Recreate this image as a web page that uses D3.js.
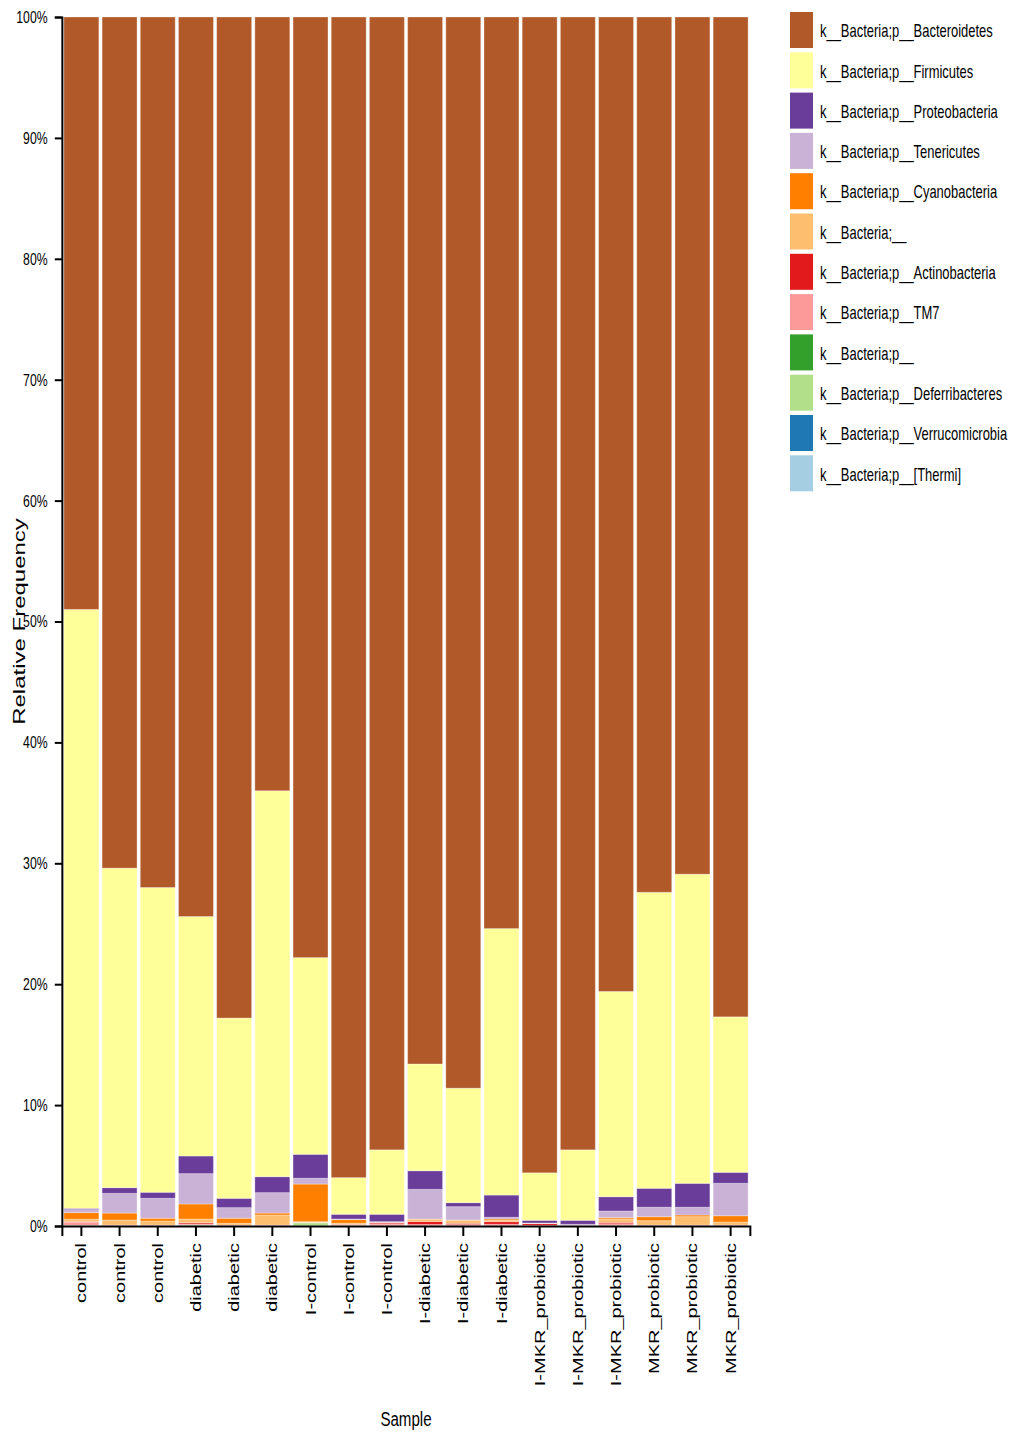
<!DOCTYPE html>
<html>
<head>
<meta charset="utf-8">
<script src="https://cdn.jsdelivr.net/npm/d3@7"></script>
<style>
  body { margin: 0; background: #fff; }
  svg text { font-family: "Liberation Sans", Arial, Helvetica, sans-serif; fill: #000; }
</style>
</head>
<body>
<svg id="chart"></svg>
<script>
var samples = ["control", "control", "control", "diabetic", "diabetic", "diabetic",
  "I-control", "I-control", "I-control", "I-diabetic", "I-diabetic", "I-diabetic",
  "I-MKR_probiotic", "I-MKR_probiotic", "I-MKR_probiotic", "MKR_probiotic", "MKR_probiotic", "MKR_probiotic"];

var taxa = ["k__Bacteria;p__Bacteroidetes", "k__Bacteria;p__Firmicutes", "k__Bacteria;p__Proteobacteria",
  "k__Bacteria;p__Tenericutes", "k__Bacteria;p__Cyanobacteria", "k__Bacteria;__",
  "k__Bacteria;p__Actinobacteria", "k__Bacteria;p__TM7", "k__Bacteria;p__",
  "k__Bacteria;p__Deferribacteres", "k__Bacteria;p__Verrucomicrobia", "k__Bacteria;p__[Thermi]"];

var colors = ["#b15928", "#ffff99", "#6a3d9a", "#cab2d6", "#ff7f00", "#fdbf6f",
  "#e31a1c", "#fb9a99", "#33a02c", "#b2df8a", "#1f78b4", "#a6cee3"];

// relative frequency in %, one value per sample
var bacteroidetes   = [49.0, 70.4, 72.0, 74.4, 82.8, 64.0, 77.8, 96.0, 93.7, 86.6, 88.6, 75.4, 95.6, 93.7, 80.6, 72.4, 70.9, 82.7];
var firmicutes      = [49.54, 26.43, 25.21, 19.81, 14.91, 31.92, 16.27, 3.03, 5.33, 8.83, 9.47, 22.04, 3.93, 5.83, 16.98, 24.48, 25.57, 12.86];
var proteobacteria  = [0.10, 0.47, 0.50, 1.46, 0.77, 1.32, 1.98, 0.39, 0.61, 1.54, 0.33, 1.84, 0.22, 0.33, 1.18, 1.57, 1.98, 0.91];
var tenericutes     = [0.25, 1.63, 1.65, 2.51, 0.88, 1.69, 0.48, 0.05, 0.05, 2.45, 1.10, 0.14, 0.02, 0.05, 0.55, 0.78, 0.64, 2.68];
var cyanobacteria   = [0.55, 0.57, 0.23, 1.24, 0.42, 0.16, 3.11, 0.30, 0.03, 0.04, 0.03, 0.10, 0.01, 0.01, 0.11, 0.33, 0.14, 0.52];
var unassigned      = [0.20, 0.42, 0.33, 0.31, 0.14, 0.83, 0.05, 0.10, 0.03, 0.17, 0.25, 0.12, 0.01, 0.01, 0.28, 0.36, 0.69, 0.25];
var actinobacteria  = [0.03, 0.02, 0.02, 0.10, 0.03, 0.02, 0.01, 0.04, 0.08, 0.25, 0.10, 0.22, 0.15, 0.02, 0.11, 0.03, 0.03, 0.03];
var tm7             = [0.28, 0.04, 0.04, 0.10, 0.03, 0.04, 0.01, 0.05, 0.15, 0.10, 0.10, 0.12, 0.05, 0.04, 0.15, 0.03, 0.03, 0.03];
var phylumNA        = [0.02, 0.01, 0.01, 0.04, 0.01, 0.01, 0.03, 0.02, 0.01, 0.01, 0.01, 0.01, 0.01, 0.01, 0.02, 0.01, 0.01, 0.01];
var deferribacteres = [0.02, 0.01, 0.01, 0.02, 0.01, 0.01, 0.25, 0.01, 0.01, 0.01, 0.01, 0.01, 0.00, 0.00, 0.02, 0.01, 0.01, 0.01];
var verrucomicrobia = [0.01, 0.00, 0.00, 0.01, 0.00, 0.00, 0.01, 0.01, 0.00, 0.00, 0.00, 0.00, 0.00, 0.00, 0.00, 0.00, 0.00, 0.00];
var thermi          = [0.00, 0.00, 0.00, 0.00, 0.00, 0.00, 0.00, 0.00, 0.00, 0.00, 0.00, 0.00, 0.00, 0.00, 0.00, 0.00, 0.00, 0.00];

var yTicks = [0, 10, 20, 30, 40, 50, 60, 70, 80, 90, 100];

var series = [bacteroidetes, firmicutes, proteobacteria, tenericutes, cyanobacteria, unassigned,
  actinobacteria, tm7, phylumNA, deferribacteres, verrucomicrobia, thermi];

var rows = samples.map(function (s, i) {
  var r = { idx: i };
  taxa.forEach(function (t, j) { r[t] = series[j][i]; });
  return r;
});

// the picture is horizontally compressed, so draw in a wider space and squeeze it
var width = 1009, height = 1436, sx = 0.72;
var svg = d3.select("#chart")
  .attr("width", width)
  .attr("height", height)
  .attr("viewBox", "0 0 " + (width / sx) + " " + height)
  .attr("preserveAspectRatio", "none");

var plotLeft = 62 / sx, plotRight = 750 / sx, plotTop = 17, plotBottom = 1226;

var x = d3.scaleBand()
  .domain(d3.range(samples.length))
  .range([plotLeft, plotRight])
  .paddingInner(0.085)
  .paddingOuter(0.05);

var y = d3.scaleLinear()
  .domain([0, 100])
  .range([plotBottom, plotTop]);

var color = d3.scaleOrdinal().domain(taxa).range(colors);

var stack = d3.stack().keys(taxa.slice().reverse());
var layers = stack(rows);

/* Bars */
svg.append("g").selectAll("g")
  .data(layers)
  .enter().append("g")
  .attr("fill", function (d) { return color(d.key); })
  .selectAll("rect")
  .data(function (d) { return d; })
  .enter().append("rect")
  .attr("x", function (d) { return x(d.data.idx); })
  .attr("width", x.bandwidth())
  .attr("y", function (d) { return y(d[1]); })
  .attr("height", function (d) { return y(d[0]) - y(d[1]); })
  .attr("stroke", "#fff")
  .attr("stroke-opacity", 0.5)
  .attr("stroke-width", 0.6)
  .attr("vector-effect", "non-scaling-stroke");

/* Axes */
var yAxis = d3.axisLeft(y)
  .tickValues(yTicks)
  .tickFormat(function (d) { return d + "%"; })
  .tickSize(10)
  .tickPadding(10);

var gy = svg.append("g")
  .attr("transform", "translate(" + plotLeft + ",0)")
  .call(yAxis);
gy.selectAll("text").style("font-size", "17px");

var xAxis = d3.axisBottom(x)
  .tickSize(10)
  .tickFormat(function (i) { return samples[i]; });

var gx = svg.append("g")
  .attr("transform", "translate(0," + plotBottom + ")")
  .call(xAxis);
gx.selectAll("text")
  .attr("transform", "rotate(-90)")
  .attr("x", -17)
  .attr("y", 0)
  .attr("dy", "0.35em")
  .style("text-anchor", "end")
  .style("font-size", "20px");

svg.selectAll(".domain, .tick line")
  .attr("stroke", "#000")
  .attr("stroke-width", 2)
  .attr("vector-effect", "non-scaling-stroke");

svg.append("text")
  .attr("x", (plotLeft + plotRight) / 2)
  .attr("y", 1426)
  .attr("text-anchor", "middle")
  .style("font-size", "21px")
  .text("Sample");

svg.append("text")
  .attr("transform", "translate(" + (25 / sx) + "," + ((plotTop + plotBottom) / 2) + ") rotate(-90)")
  .attr("text-anchor", "middle")
  .style("font-size", "24px")
  .text("Relative Frequency");

/* Legend */
var legend = svg.append("g").selectAll("g")
  .data(taxa)
  .enter().append("g")
  .attr("transform", function (d, i) { return "translate(" + (790 / sx) + "," + (12 + i * 40.3) + ")"; });

legend.append("rect")
  .attr("width", 23 / sx)
  .attr("height", 36)
  .attr("fill", function (d) { return color(d); });

legend.append("text")
  .attr("x", 30 / sx)
  .attr("y", 19)
  .attr("dy", "0.35em")
  .style("font-size", "18px")
  .text(function (d) { return d; });
</script>
</body>
</html>
